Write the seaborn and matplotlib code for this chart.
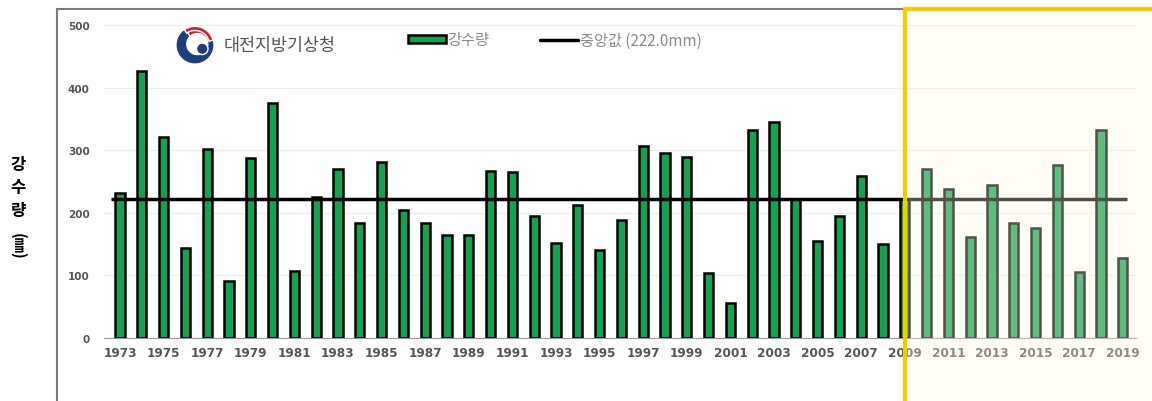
import matplotlib
matplotlib.use("Agg")
import matplotlib.pyplot as plt
import matplotlib.patches as mpatches
from matplotlib.lines import Line2D
import seaborn as sns
import pandas as pd
import numpy as np

years = list(range(1973, 2020))
rain = [231, 427, 321, 144, 302, 91, 287, 375, 107, 226,
        270, 184, 281, 204, 183, 164, 165, 266, 265, 195,
        151, 212, 140, 188, 307, 295, 289, 104, 56, 332,
        345, 222, 155, 195, 258, 150, 222, 270, 238, 162,
        245, 183, 176, 276, 105, 333, 128]
median_val = 222.0
yticks = [0, 100, 200, 300, 400, 500]
series_label = "강수량"
median_label = "중앙값 (222.0mm)"
org_name = "대전지방기상청"

sns.set_theme(style="white")
plt.rcParams['font.family'] = ['Noto Sans CJK KR', 'DejaVu Sans']

W, H = 1152, 402
fig = plt.figure(figsize=(W / 100, H / 100), dpi=100)
fig.patch.set_facecolor("white")

def fx(px):
    return px / W

def fy(py):
    return 1 - py / H

ax = fig.add_axes([fx(103.6), fy(339), fx(1135.9) - fx(103.6), fy(26) - fy(339)])
df = pd.DataFrame({"year": [str(y) for y in years], "rain": rain})
green = "#17a052"
sns.barplot(data=df, x="year", y="rain", ax=ax, color=green, width=0.42,
            edgecolor="black", linewidth=1.8, saturation=1, zorder=3)

ax.set_xlim(-0.75, len(years) - 0.4)
ax.set_ylim(0, 500)
ax.set_yticks(yticks)
ax.set_yticklabels([str(v) for v in yticks], fontsize=7.5, color="#555555",
                   fontweight="bold", family="DejaVu Sans")
ax.tick_params(axis="y", length=0, pad=10)
ax.set_xticks(range(0, len(years), 2))
ax.set_xticklabels([str(y) for y in years[::2]], fontsize=8.7, color="#555555",
                   fontweight="bold", family="DejaVu Sans")
ax.tick_params(axis="x", length=0, pad=6)
ax.set_xticks(np.arange(-0.5, len(years), 1), minor=True)
ax.tick_params(axis="x", which="minor", length=3, width=0.8, color="#888888", direction="out")
ax.set_xlabel("")
ax.set_ylabel("")
for s in ["left", "right", "top"]:
    ax.spines[s].set_visible(False)
ax.spines["bottom"].set_color("#999999")
ax.spines["bottom"].set_linewidth(0.8)
ax.grid(axis="y", color="#ececec", linewidth=0.8, zorder=0)
ax.set_axisbelow(True)

ax.hlines(median_val, -0.4, len(years) - 0.8, color="black", linewidth=2.5, zorder=4)

# legend
handles = [mpatches.Patch(facecolor=green, edgecolor="black", linewidth=1.8),
           Line2D([0], [0], color="black", linewidth=2.5)]
fig.legend(handles, [series_label, median_label], loc="center left",
           bbox_to_anchor=(fx(394), fy(41)), ncol=2, frameon=False,
           fontsize=11, labelcolor="#8a8a8a", handlelength=2.5, handleheight=0.5,
           handletextpad=0.1, columnspacing=3.3)

# organisation text + simple logo
fig.text(fx(224), fy(46), org_name, fontsize=12.5, color="#555555", va="center", ha="left")
lax = fig.add_axes([fx(174), fy(67), fx(42) - fx(0), fy(25) - fy(67)])
lax.set_xlim(-1.1, 1.1)
lax.set_ylim(-1.1, 1.1)
lax.set_aspect("equal")
lax.axis("off")
lax.add_patch(mpatches.Wedge((0, 0), 1, 120, 380, facecolor="#1d3f7c"))
lax.add_patch(mpatches.Wedge((0, 0), 1, 20, 120, facecolor="#c8243a"))
lax.add_patch(mpatches.Circle((0.12, 0.05), 0.55, facecolor="white"))
lax.add_patch(mpatches.Circle((0.38, -0.2), 0.3, facecolor="#1d3f7c"))
lax.add_patch(mpatches.Wedge((0, 0), 0.98, 15, 125, width=0.22, facecolor="#c8243a"))

# y label (stacked Korean characters)
fig.text(fx(18), fy(188), "강\n수\n량", fontsize=12, fontweight="bold", color="black",
         ha="center", va="center", linespacing=1.35)
fig.text(fx(18), fy(246), "(㎜)", fontsize=11, fontweight="bold", color="black",
         ha="center", va="center", rotation=270,
         family=['Noto Sans CJK KR', 'DejaVu Sans'])

# outer chart frame
fig.add_artist(Line2D([fx(57), fx(905)], [fy(10), fy(10)], color="#7a7a7a", linewidth=1.5))
fig.add_artist(Line2D([fx(57), fx(57)], [fy(10), fy(405)], color="#7a7a7a", linewidth=1.5))

# highlighted recent period box
fig.add_artist(mpatches.Rectangle((fx(905), fy(420)), fx(260), fy(10) - fy(420),
                                  facecolor=(1.0, 0.98, 0.88, 0.32), edgecolor="#f5cc00",
                                  linewidth=3.0, zorder=10))

fig.savefig("out.png", dpi=100)
